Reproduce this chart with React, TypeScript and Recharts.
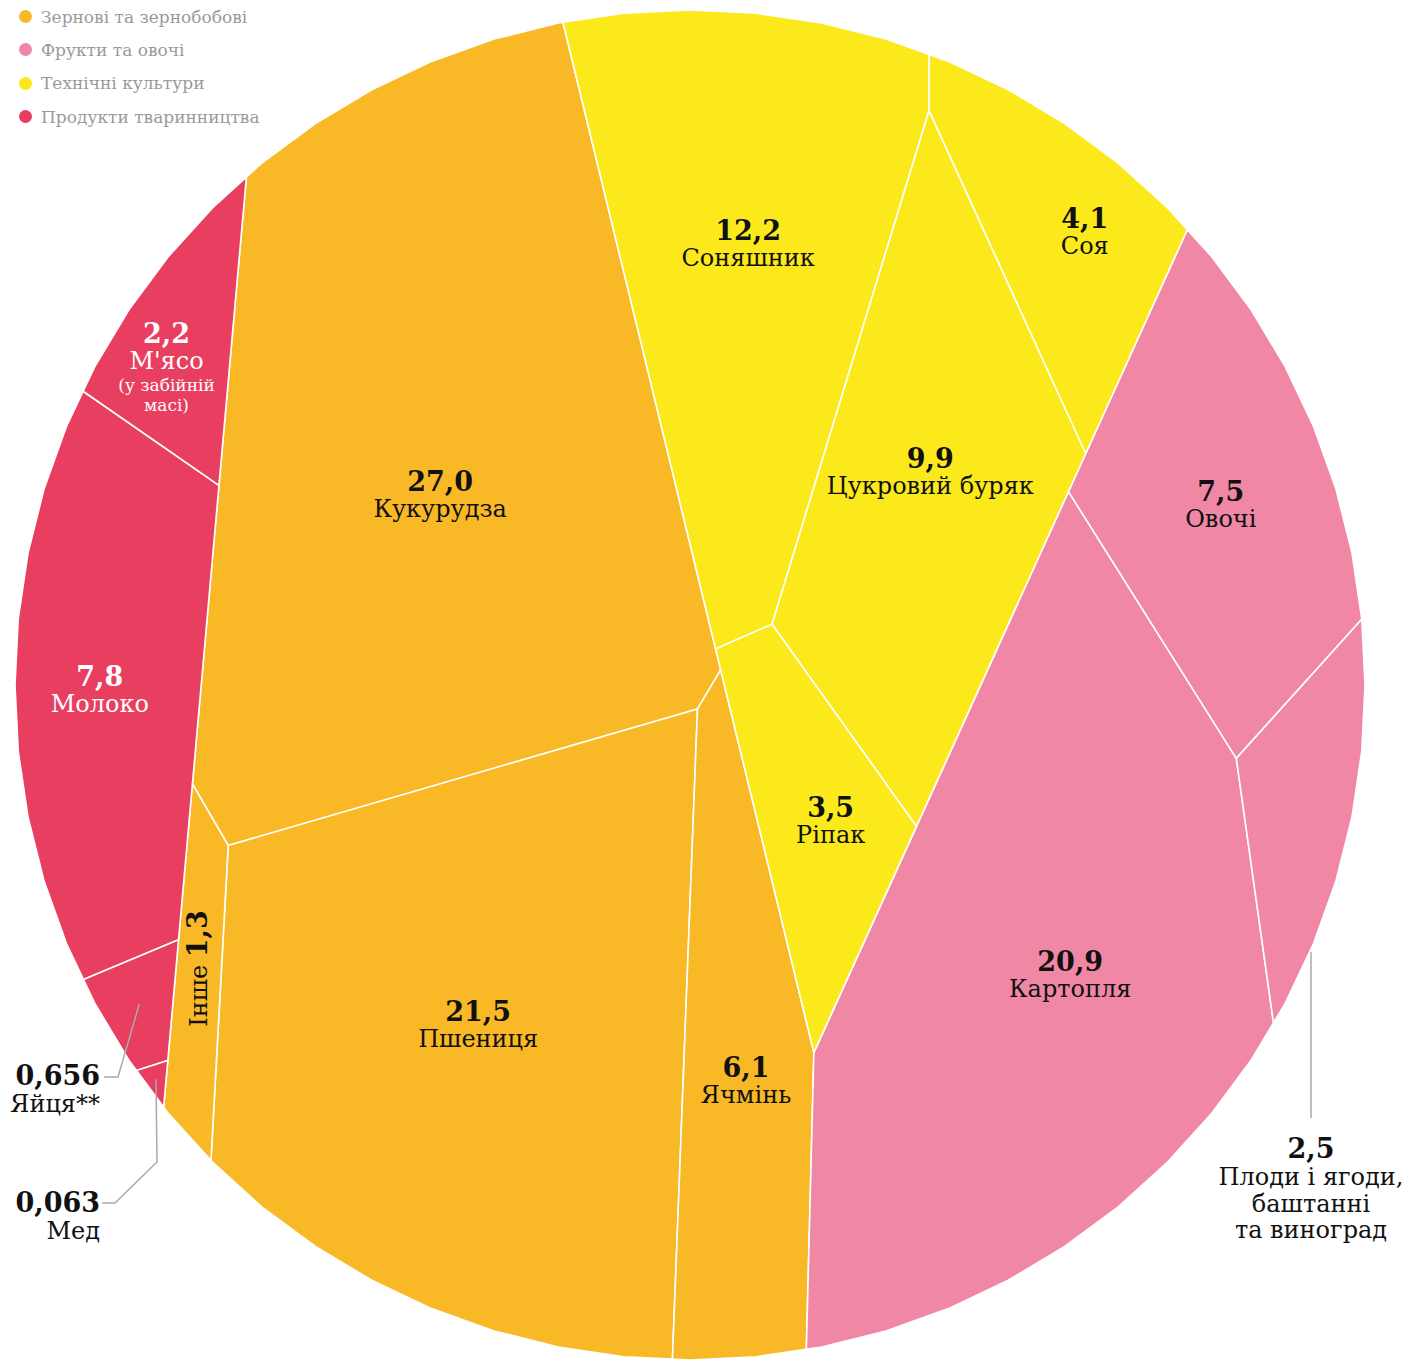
import React from 'react';
import { ScatterChart, Scatter, XAxis, YAxis } from 'recharts';

type Pt = [number, number];

const groupNames = ['Зернові та зернобобові', 'Фрукти та овочі', 'Технічні культури', 'Продукти тваринництва'];
const groupColors = ['#F9B927', '#F087A5', '#FCE91B', '#E83E5F'];

const cropNames = [
  'Кукурудза', 'Пшениця', 'Ячмінь', 'Інше',
  'Картопля', 'Овочі', 'Плоди і ягоди,\nбаштанні\nта виноград',
  'Соняшник', 'Цукровий буряк', 'Соя', 'Ріпак',
  'Молоко', "М'ясо\n(у забійній\nмасі)", 'Яйця**', 'Мед',
];
const cropGroups = [0, 0, 0, 0, 1, 1, 1, 2, 2, 2, 2, 3, 3, 3, 3];
const cropValues = [27.0, 21.5, 6.1, 1.3, 20.9, 7.5, 2.5, 12.2, 9.9, 4.1, 3.5, 7.8, 2.2, 0.656, 0.063];

// layout hints for the voronoi treemap: seed points in circle radii from the centre
const groupSeeds: Pt[] = [[-0.317, 0.1304], [0.7329, 0.157], [0.3281, -0.0267], [-0.8341, 0.0844]];
const cropSeeds: Pt[] = [
  [-0.3704, -0.1852], [-0.2876, 0.0993], [0.1356, 0.1156], [-0.8101, 0.0707],
  [0.409, -0.067], [0.7852, -0.3037], [0.9616, -0.1447],
  [0.0148, -0.5704], [0.369, -0.4621], [0.6061, -0.5704], [0.1351, -0.295],
  [-1.0163, -0.1606], [-0.763, -0.5259], [-0.8443, 0.2492], [-0.7998, 0.3899],
];
// label nudges away from the cell centroid, px
const labelShift: Pt[] = [
  [3, 35], [2, -15], [6, -3], [0, -12],
  [33, 5], [0, 0], [0, 0],
  [0, -12], [3, -21], [26, -3], [18, 4],
  [-14, 5], [-14, 21], [0, 0], [0, 0],
];

const W = 1406;
const H = 1364;
const CX = 690;
const CY = 685;
const R = 675;
const SIDES = 64;
const FONT = "'DejaVu Serif', serif";

// labels that sit outside the circle
const outside: Record<string, { x: number; y: number; anchor: 'end' | 'middle'; leader: Pt[]; toCell: boolean }> = {
  'Яйця**': { x: 100, y: 1085, anchor: 'end', leader: [[104, 1077], [118, 1077]], toCell: true },
  'Мед': { x: 100, y: 1212, anchor: 'end', leader: [[102, 1203], [115, 1203], [157, 1162]], toCell: true },
  'Плоди і ягоди,\nбаштанні\nта виноград': { x: 1311, y: 1158, anchor: 'middle', leader: [[1311, 1118], [1311, 952]], toCell: false },
};

const clip = (poly: Pt[], a: number, b: number, c: number): Pt[] => {
  const out: Pt[] = [];
  for (let i = 0; i < poly.length; i++) {
    const p = poly[i];
    const q = poly[(i + 1) % poly.length];
    const fp = a * p[0] + b * p[1] - c;
    const fq = a * q[0] + b * q[1] - c;
    if (fp <= 0) out.push(p);
    if ((fp < 0 && fq > 0) || (fp > 0 && fq < 0)) {
      const t = fp / (fp - fq);
      out.push([p[0] + t * (q[0] - p[0]), p[1] + t * (q[1] - p[1])]);
    }
  }
  return out;
};

const area = (poly: Pt[]) => {
  let s = 0;
  for (let i = 0; i < poly.length; i++) {
    const p = poly[i];
    const q = poly[(i + 1) % poly.length];
    s += p[0] * q[1] - q[0] * p[1];
  }
  return Math.abs(s) / 2;
};

const centroid = (poly: Pt[]): Pt => {
  let s = 0, x = 0, y = 0;
  for (let i = 0; i < poly.length; i++) {
    const p = poly[i];
    const q = poly[(i + 1) % poly.length];
    const cr = p[0] * q[1] - q[0] * p[1];
    s += cr;
    x += (p[0] + q[0]) * cr;
    y += (p[1] + q[1]) * cr;
  }
  return [x / (3 * s), y / (3 * s)];
};

// power diagram of the sites, clipped to the bounding polygon
const powerCells = (bound: Pt[], sites: Pt[], w: number[]) =>
  sites.map((s, i) => {
    let poly = bound;
    sites.forEach((t, j) => {
      if (j === i || poly.length === 0) return;
      const c = t[0] * t[0] + t[1] * t[1] - s[0] * s[0] - s[1] * s[1] - w[j] + w[i];
      poly = clip(poly, 2 * (t[0] - s[0]), 2 * (t[1] - s[1]), c);
    });
    return poly;
  });

// adjust weights until each cell's area matches its value
const solve = (bound: Pt[], sites: Pt[], values: number[]) => {
  const total = values.reduce((a, b) => a + b, 0);
  const full = area(bound);
  const target = values.map((v) => (v / total) * full);
  const w = sites.map(() => 0);
  for (let k = 0; k < 4000; k++) {
    const areas = powerCells(bound, sites, w).map(area);
    areas.forEach((a, i) => {
      w[i] += 0.25 * (target[i] - a);
    });
  }
  return powerCells(bound, sites, w);
};

const toPx = (s: Pt): Pt => [CX + s[0] * R, CY + s[1] * R];

const buildCells = () => {
  const circle: Pt[] = Array.from({ length: SIDES }, (_, k) => {
    const a = (k / SIDES) * 2 * Math.PI;
    return [CX + R * Math.cos(a), CY + R * Math.sin(a)] as Pt;
  });
  const totals = groupNames.map((_, g) =>
    cropValues.reduce((acc, v, i) => (cropGroups[i] === g ? acc + v : acc), 0)
  );
  const groupPolys = solve(circle, groupSeeds.map(toPx), totals);
  const polys: Pt[][] = new Array(cropNames.length);
  groupNames.forEach((_, g) => {
    const idx = cropNames.map((_, i) => i).filter((i) => cropGroups[i] === g);
    const sub = solve(groupPolys[g], idx.map((i) => toPx(cropSeeds[i])), idx.map((i) => cropValues[i]));
    idx.forEach((i, k) => {
      polys[i] = sub[k];
    });
  });
  return cropNames.map((name, i) => {
    const [x, y] = centroid(polys[i]);
    return { name, value: cropValues[i], group: cropGroups[i], index: i, x, y, poly: polys[i] };
  });
};

const cells = buildCells();

const fmt = (v: number) => (v < 1 ? v.toFixed(3) : v.toFixed(1)).replace('.', ',');

const renderCell = (props: any) => {
  const { cx, cy, payload } = props;
  const pts = payload.poly.map((p: Pt) => `${cx + p[0] - payload.x},${cy + p[1] - payload.y}`).join(' ');
  return (
    <polygon points={pts} fill={groupColors[payload.group]} stroke="#fff" strokeWidth={1.6} strokeLinejoin="round" />
  );
};

const renderLabel = (props: any) => {
  const { payload } = props;
  const [dx, dy] = labelShift[payload.index];
  const cx = props.cx + dx;
  const cy = props.cy + dy;
  const lines: string[] = payload.name.split('\n');
  const value = fmt(payload.value);
  const out = outside[payload.name];

  if (out) {
    const pts = [...out.leader, ...(out.toCell ? [[cx, cy] as Pt] : [])];
    return (
      <g fontFamily={FONT}>
        <polyline points={pts.map((p) => p.join(',')).join(' ')} fill="none" stroke="#aaa" strokeWidth={1.5} />
        <text x={out.x} y={out.y} textAnchor={out.anchor} fontSize={27} fontWeight="bold" fill="#111">{value}</text>
        {lines.map((l, k) => (
          <text key={k} x={out.x} y={out.y + 27 + k * 26.5} textAnchor={out.anchor} fontSize={24} fill="#111">{l}</text>
        ))}
      </g>
    );
  }

  if (payload.name === 'Інше') {
    return (
      <text transform={`rotate(-90 ${cx} ${cy})`} x={cx} y={cy + 9} textAnchor="middle" fontFamily={FONT} fill="#111">
        <tspan fontSize={24}>{lines[0]} </tspan>
        <tspan fontSize={27} fontWeight="bold">{value}</tspan>
      </text>
    );
  }

  const color = payload.group === 3 ? '#fff' : '#111';
  const extra = lines.length - 1;
  const top = cy - 2 - extra * 10;
  return (
    <g fontFamily={FONT} fill={color} textAnchor="middle">
      <text x={cx} y={top} fontSize={27} fontWeight="bold">{value}</text>
      <text x={cx} y={top + 26} fontSize={24}>{lines[0]}</text>
      {lines.slice(1).map((l, k) => (
        <text key={k} x={cx} y={top + 48 + k * 20} fontSize={17}>{l}</text>
      ))}
    </g>
  );
};

export default function App() {
  return (
    <div style={{ position: 'absolute', left: 0, top: 0, width: W, height: H, overflow: 'hidden', background: '#fff' }}>
      <ScatterChart width={W} height={H} margin={{ top: 0, right: 0, bottom: 0, left: 0 }}>
        <XAxis type="number" dataKey="x" domain={[0, W]} hide allowDataOverflow />
        <YAxis type="number" dataKey="y" domain={[0, H]} hide reversed allowDataOverflow />
        <Scatter data={cells} shape={renderCell} isAnimationActive={false} />
        <Scatter data={cells} shape={renderLabel} isAnimationActive={false} />
      </ScatterChart>
      <div style={{ position: 'absolute', left: 19, top: 0, fontFamily: FONT, fontSize: 17, color: '#9a9a9a' }}>
        {groupNames.map((g, i) => (
          <div key={g} style={{ display: 'flex', alignItems: 'center', height: 33.3 }}>
            <span style={{ width: 13, height: 13, borderRadius: '50%', background: groupColors[i], marginRight: 9 }} />
            {g}
          </div>
        ))}
      </div>
    </div>
  );
}
